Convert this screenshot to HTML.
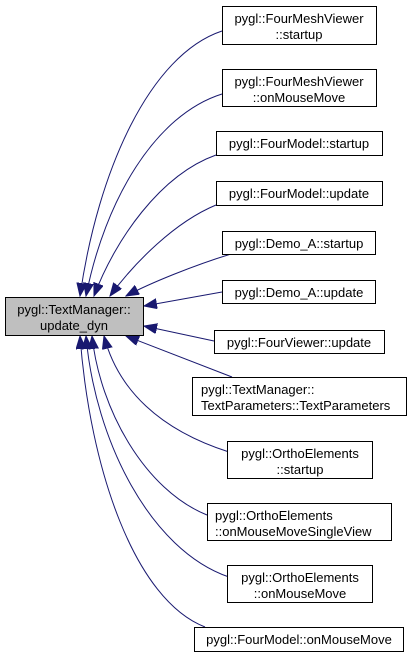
<!DOCTYPE html>
<html><head><meta charset="utf-8"><style>
html,body{margin:0;padding:0;background:#fff;width:412px;height:659px;overflow:hidden}
svg{display:block}
text{font-family:"Liberation Sans",Arial,sans-serif;font-size:13px;fill:#000}
</style></head><body>
<svg width="412" height="659" viewBox="0 0 412 659" xmlns="http://www.w3.org/2000/svg">
<defs>
<marker id="a" markerUnits="userSpaceOnUse" markerWidth="14" markerHeight="12" refX="13" refY="5" orient="auto">
<path d="M0,0 L13,5 L0,10 Z" fill="#191970" stroke="#191970"/>
</marker>
</defs>
<g fill="none" stroke="#191970" stroke-width="1" marker-end="url(#a)">
<path d="M222,31 C150,55 98,170 80,296"/>
<path d="M222,94 C155,115 105,200 86,296"/>
<path d="M216,155 C160,175 115,240 94,296"/>
<path d="M216,205 C175,222 135,262 110,296"/>
<path d="M231,254 C195,265 150,283 126,296"/>
<path d="M222,292 L144,306"/>
<path d="M214,341 L144,326"/>
<path d="M232,377 L126,336"/>
<path d="M229,452 C160,430 118,390 104,336"/>
<path d="M207,515 C145,490 100,410 92,336"/>
<path d="M229,577 C150,550 95,440 86,336"/>
<path d="M205,627 C135,600 90,470 80,336"/>
</g>
<g stroke="#000" stroke-width="1" fill="#fff">
<rect x="5.5" y="297.5" width="138" height="38" fill="#bfbfbf"/>
<rect x="222.5" y="6.5" width="154" height="38"/>
<rect x="222.5" y="69.5" width="154" height="37"/>
<rect x="216.5" y="131.5" width="166" height="24"/>
<rect x="216.5" y="181.5" width="166" height="24"/>
<rect x="222.5" y="231.5" width="153" height="23"/>
<rect x="222.5" y="280.5" width="153" height="23"/>
<rect x="214.5" y="330.5" width="170" height="23"/>
<rect x="192.5" y="377.5" width="214" height="38"/>
<rect x="227.5" y="441.5" width="145" height="37"/>
<rect x="207.5" y="503.5" width="184" height="37"/>
<rect x="227.5" y="565.5" width="145" height="37"/>
<rect x="194.5" y="627.5" width="209" height="24"/>
</g>
<g text-anchor="middle">
<text x="74" y="314">pygl::TextManager::</text>
<text x="74" y="330">update_dyn</text>
<text x="299" y="23">pygl::FourMeshViewer</text>
<text x="299" y="39">::startup</text>
<text x="299" y="86">pygl::FourMeshViewer</text>
<text x="299" y="102">::onMouseMove</text>
<text x="299" y="148">pygl::FourModel::startup</text>
<text x="299" y="198">pygl::FourModel::update</text>
<text x="299" y="248">pygl::Demo_A::startup</text>
<text x="299" y="297">pygl::Demo_A::update</text>
<text x="299" y="347">pygl::FourViewer::update</text>
<text x="300" y="458">pygl::OrthoElements</text>
<text x="300" y="474">::startup</text>
<text x="300" y="582">pygl::OrthoElements</text>
<text x="300" y="598">::onMouseMove</text>
<text x="299" y="644">pygl::FourModel::onMouseMove</text>
</g>
<text x="201" y="394">pygl::TextManager::</text>
<text x="201" y="410">TextParameters::TextParameters</text>
<text x="215" y="520">pygl::OrthoElements</text>
<text x="215" y="536">::onMouseMoveSingleView</text>
</svg>
</body></html>
